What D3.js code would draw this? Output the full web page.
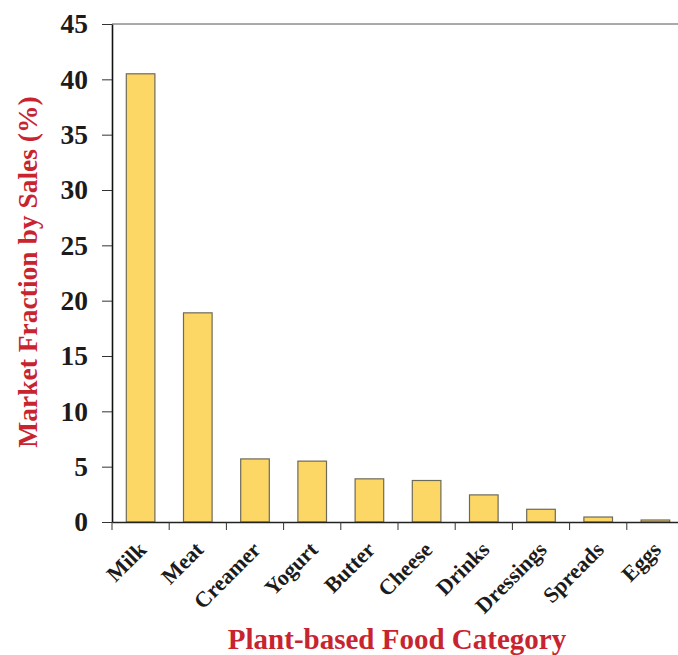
<!DOCTYPE html>
<html>
<head>
<meta charset="utf-8">
<script src="https://cdn.jsdelivr.net/npm/d3@7"></script>
<style>
html,body{margin:0;padding:0;background:#fff;}
svg{display:block;}
</style>
</head>
<body>
<svg id="chart" width="678" height="655"></svg>
<script>
const categories = ["Milk","Meat","Creamer","Yogurt","Butter","Cheese","Drinks","Dressings","Spreads","Eggs"];
const values = [40.5, 18.9, 5.7, 5.5, 3.9, 3.75, 2.45, 1.15, 0.45, 0.18];
const yTicks = [0,5,10,15,20,25,30,35,40,45];
const yTitle = "Market Fraction by Sales (%)";
const xTitle = "Plant-based Food Category";

(function(){
const svg = d3.select("#chart");
const mLeft = 112, mRight = 684, mTop = 24, mBottom = 522;
const serif = "'Liberation Serif','Times New Roman',serif";
const red = "#C8242F";

const x = d3.scaleBand().domain(categories).range([mLeft, mRight]).paddingInner(0.5).paddingOuter(0.25);
const y = d3.scaleLinear().domain([0,45]).range([mBottom, mTop]);

// bars
svg.append("g").selectAll("rect").data(categories).join("rect")
  .attr("x", d => x(d))
  .attr("y", (d,i) => y(values[i]))
  .attr("width", x.bandwidth())
  .attr("height", (d,i) => y(0) - y(values[i]))
  .attr("fill", "#FDD766")
  .attr("stroke", "#6e6a58")
  .attr("stroke-width", 1.2);

// top frame line
svg.append("line").attr("x1", mLeft).attr("x2", mRight).attr("y1", y(45)).attr("y2", y(45))
  .attr("stroke", "#555").attr("stroke-width", 1);

// y axis
const yAxis = svg.append("g").attr("transform", `translate(${mLeft},0)`)
  .call(d3.axisLeft(y).tickValues(yTicks).tickSize(10).tickPadding(14).tickSizeOuter(0));
yAxis.select(".domain").attr("stroke", "#111").attr("stroke-width", 1.6);
yAxis.selectAll(".tick line").attr("stroke", "#333").attr("stroke-width", 1);
yAxis.selectAll(".tick text").attr("font-family", serif).attr("font-weight", "bold")
  .attr("font-size", 27.5).attr("fill", "#1b1b1b");

// x axis
const step = x.step();
const off = (step - x.bandwidth()) / 2;
const xAxis = svg.append("g").attr("transform", `translate(0,${mBottom})`)
  .call(d3.axisBottom(x).tickSize(0).tickPadding(0).tickSizeOuter(0));
xAxis.select(".domain").attr("stroke", "#222").attr("stroke-width", 1.6);
xAxis.selectAll(".tick text")
  .attr("font-family", serif).attr("font-weight", "bold").attr("font-size", 22)
  .attr("fill", "#1b1b1b")
  .attr("text-anchor", "end")
  .attr("dy", null).attr("y", null)
  .attr("transform", "translate(7,29) rotate(-45)");
// tick marks at band boundaries
svg.append("g").selectAll("line").data(categories).join("line")
  .attr("x1", d => x(d) - off).attr("x2", d => x(d) - off)
  .attr("y1", mBottom).attr("y2", mBottom + 8)
  .attr("stroke", "#333").attr("stroke-width", 1);

// titles
svg.append("text").attr("x", 397).attr("y", 649).attr("text-anchor", "middle")
  .attr("font-family", serif).attr("font-weight", "bold").attr("font-size", 29)
  .attr("fill", red).text(xTitle);
svg.append("text").attr("transform", `translate(37,272) rotate(-90)`).attr("text-anchor", "middle")
  .attr("font-family", serif).attr("font-weight", "bold").attr("font-size", 27.5)
  .attr("fill", red).text(yTitle);
})();
</script>
</body>
</html>
